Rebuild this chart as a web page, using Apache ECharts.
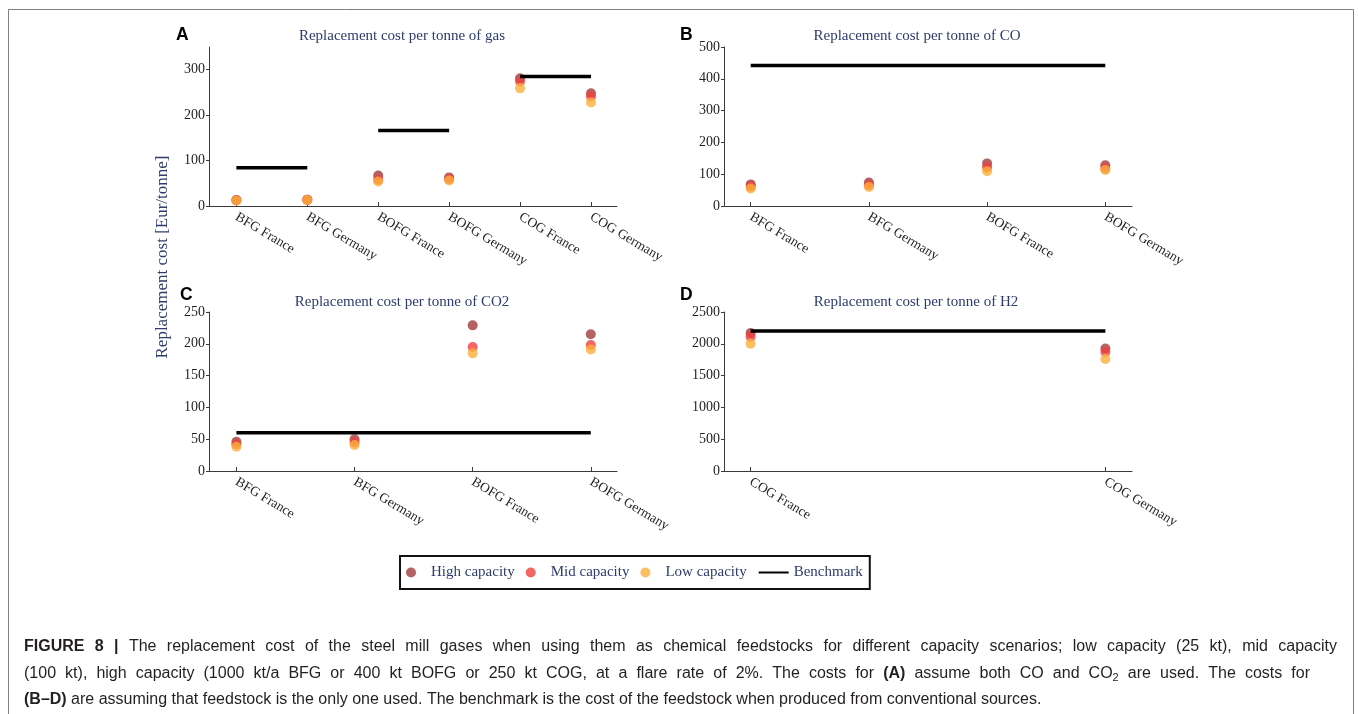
<!DOCTYPE html>
<html>
<head>
<meta charset="utf-8">
<script src="https://cdn.jsdelivr.net/npm/echarts@6/dist/echarts.min.js"></script>
<style>
html,body{margin:0;padding:0;background:#fff;}
#chart{width:1358px;height:714px;}
</style>
</head>
<body>
<div id="chart"></div>
<script>
// ---- Data ----
const catsA = ['BFG France','BFG Germany','BOFG France','BOFG Germany','COG France','COG Germany'];
const highA = [13, 14, 67, 63, 281, 248];
const midA  = [12.5, 13.5, 58, 59, 274, 241];
const lowA  = [12, 13, 54, 56, 259, 228];
const benchA = [84, 84, 166, 166, 285, 285];   // pairs: BFG, BOFG, COG

const catsB = ['BFG France','BFG Germany','BOFG France','BOFG Germany'];
const highB = [68, 74, 134, 128];
const midB  = [61, 65, 121, 118];
const lowB  = [55, 60, 109, 113];
const benchB = [442, 442];

const catsC = ['BFG France','BFG Germany','BOFG France','BOFG Germany'];
const highC = [46, 50, 229, 215];
const midC  = [42, 45, 195, 198];
const lowC  = [38, 41, 185, 191];
const benchC = [60, 60];

const catsD = ['COG France','COG Germany'];
const highD = [2170, 1925];
const midD  = [2110, 1870];
const lowD  = [2000, 1760];
const benchD = [2200, 2200];

const yTicksA = [0, 100, 200, 300];
const yTicksB = [0, 100, 200, 300, 400, 500];
const yTicksC = [0, 50, 100, 150, 200, 250];
const yTicksD = [0, 500, 1000, 1500, 2000, 2500];

const panelTitles = ['Replacement cost per tonne of gas','Replacement cost per tonne of CO','Replacement cost per tonne of CO2','Replacement cost per tonne of H2'];
const panelLetters = ['A','B','C','D'];
const yAxisName = 'Replacement cost [Eur/tonne]';

// caption lines: pieces of [style, text]
const captionLines = [
  [['b','FIGURE 8 |'], ['n',' The replacement cost of the steel mill gases when using them as chemical feedstocks for different capacity scenarios; low capacity (25 kt), mid capacity']],
  [['n','(100 kt), high capacity (1000 kt/a BFG or 400 kt BOFG or 250 kt COG, at a flare rate of 2%. The costs for '], ['b','(A)'], ['n',' assume both CO and CO'], ['sub','2'], ['n',' are used. The costs for']],
  [['b','(B–D)'], ['n',' are assuming that feedstock is the only one used. The benchmark is the cost of the feedstock when produced from conventional sources.']]
];

// ---- Styles ----
const SERIF = 'Liberation Serif';
const SANS = 'Liberation Sans';
const NAVY = '#2d3c6b';
const AXIS = '#3a3a3a';
const colHigh = '#a23b3b', colMid = '#f0403f', colLow = '#fbb03b';

const grids = [
  {left:209, top:47, width:408, height:159},
  {left:724, top:47, width:408, height:159},
  {left:209, top:312, width:408, height:159},
  {left:724, top:312, width:408, height:159}
];
const xRanges = [[-0.386, 5.367], [-0.226, 3.226], [-0.232, 3.222], [-0.075, 1.075]];
const yRanges = [[0, 350, 100], [0, 500, 100], [0, 250, 50], [0, 2500, 500]];
const allCats = [catsA, catsB, catsC, catsD];
const allYTicks = [yTicksA, yTicksB, yTicksC, yTicksD];

const xAxes = allCats.map((cats, i) => ({
  type:'value', gridIndex:i, min:xRanges[i][0], max:xRanges[i][1],
  axisLine:{show:true, onZero:false, lineStyle:{color:AXIS, width:1}},
  axisTick:{show:true, inside:true, length:4, customValues:cats.map((c, k) => k), lineStyle:{color:AXIS}},
  axisLabel:{show:true, customValues:cats.map((c, k) => k), formatter:(v) => cats[Math.round(v)],
    rotate:-31, margin:10, fontFamily:SERIF, fontSize:13.5, color:'#1f1f1f'},
  splitLine:{show:false}
}));
const yAxes = allYTicks.map((ticks, i) => ({
  type:'value', gridIndex:i, min:yRanges[i][0], max:yRanges[i][1], interval:yRanges[i][2],
  axisLine:{show:true, onZero:false, lineStyle:{color:AXIS, width:1}},
  axisTick:{show:true, length:3, customValues:ticks, lineStyle:{color:AXIS}},
  axisLabel:{customValues:ticks, margin:4, formatter:(v) => String(v), fontFamily:SERIF, fontSize:14, color:'#1f1f1f'},
  splitLine:{show:false}
}));

const series = [];
function addScatter(idx, name, vals, color) {
  series.push({
    type:'scatter', name:name, xAxisIndex:idx, yAxisIndex:idx,
    data: vals.map((v, k) => [k, v]),
    symbol:'circle', symbolSize:10,
    itemStyle:{color:color, opacity:0.8},
    z:2, silent:true
  });
}
function addBench(idx, pairs) {
  series.push({
    type:'line', name:'Benchmark', xAxisIndex:idx, yAxisIndex:idx,
    data: pairs, symbol:'none', showSymbol:false,
    lineStyle:{color:'#000', width:3.5, cap:'butt'}, itemStyle:{color:'#000'},
    z:3, silent:true
  });
}
const highs = [highA, highB, highC, highD];
const mids = [midA, midB, midC, midD];
const lows = [lowA, lowB, lowC, lowD];
for (let i = 0; i < 4; i++) {
  addScatter(i, 'High capacity', highs[i], colHigh);
  addScatter(i, 'Mid capacity', mids[i], colMid);
  addScatter(i, 'Low capacity', lows[i], colLow);
}
for (let k = 0; k < benchA.length; k += 2) addBench(0, [[k, benchA[k]], [k + 1, benchA[k + 1]]]);
addBench(1, [[0, benchB[0]], [catsB.length - 1, benchB[1]]]);
addBench(2, [[0, benchC[0]], [catsC.length - 1, benchC[1]]]);
addBench(3, [[0, benchD[0]], [catsD.length - 1, benchD[1]]]);

const titlePos = [[402, 36], [917, 36], [402, 302], [916, 302]];
const letterPos = [[176, 35], [680, 35], [180, 295], [680, 295]];
const graphics = [];
graphics.push({type:'rect', shape:{x:8.5, y:9.5, width:1345, height:720},
  style:{fill:'none', stroke:'#808080', lineWidth:1}, silent:true});
for (let i = 0; i < 4; i++) {
  graphics.push({type:'text', x:titlePos[i][0], y:titlePos[i][1],
    style:{text:panelTitles[i], align:'center', verticalAlign:'middle', fontFamily:SERIF, fontSize:15, fill:NAVY}});
  graphics.push({type:'text', x:letterPos[i][0], y:letterPos[i][1],
    style:{text:panelLetters[i], align:'left', verticalAlign:'middle', fontFamily:SANS, fontSize:17.5, fontWeight:'bold', fill:'#000'}});
}
graphics.push({type:'text', x:163, y:257, rotation:Math.PI/2,
  style:{text:yAxisName, align:'center', verticalAlign:'middle', fontFamily:SERIF, fontSize:17, fill:NAVY}});

// ---- Caption (justified like the journal layout) ----
const CAP_SIZE = 16, SUB_SIZE = 11;
const capStyle = {
  b:{fontWeight:'bold', fontSize:CAP_SIZE, dy:0},
  n:{fontWeight:'normal', fontSize:CAP_SIZE, dy:0},
  sub:{fontWeight:'normal', fontSize:SUB_SIZE, dy:4}
};
const measureCtx = document.createElement('canvas').getContext('2d');
function measure(style, text) {
  const s = capStyle[style];
  measureCtx.font = s.fontWeight + ' ' + s.fontSize + 'px "' + SANS + '"';
  return measureCtx.measureText(text).width;
}
const capLeft = 24;
const capRightTargets = [1337, 1310, null];
const capY = [647, 674, 700];
captionLines.forEach((pieces, li) => {
  const words = [[]];
  pieces.forEach(([st, txt]) => {
    txt.split(' ').forEach((part, j) => {
      if (j > 0) words.push([]);
      if (part !== '') words[words.length - 1].push([st, part]);
    });
  });
  const ws = words.filter(w => w.length);
  const widths = ws.map(w => w.reduce((a, [st, t]) => a + measure(st, t), 0));
  const total = widths.reduce((a, b) => a + b, 0);
  let gap = measure('n', ' ');
  if (capRightTargets[li]) gap = (capRightTargets[li] - capLeft - total) / (ws.length - 1);
  let x = capLeft;
  ws.forEach((w, wi) => {
    let px = x;
    w.forEach(([st, t]) => {
      const s = capStyle[st];
      graphics.push({type:'text', x:px, y:capY[li] + s.dy,
        style:{text:t, align:'left', verticalAlign:'middle', fontFamily:SANS, fontSize:s.fontSize, fontWeight:s.fontWeight, fill:'#231f20'}});
      px += measure(st, t);
    });
    x += widths[wi] + gap;
  });
});

const chart = echarts.init(document.getElementById('chart'), null, {renderer:'canvas'});
chart.setOption({
  animation:false,
  backgroundColor:'#fff',
  grid: grids.map(g => Object.assign({outerBoundsMode:'none', containLabel:false}, g)),
  xAxis: xAxes,
  yAxis: yAxes,
  legend:{
    left:400, top:556, orient:'horizontal', padding:[9, 7, 9, 6], itemGap:11,
    itemWidth:30, itemHeight:10, borderColor:'#111', borderWidth:2, borderRadius:0,
    symbolKeepAspect:false,
    textStyle:{fontFamily:SERIF, fontSize:15, color:NAVY},
    selectedMode:false,
    data:[
      {name:'High capacity', icon:'circle'},
      {name:'Mid capacity', icon:'circle'},
      {name:'Low capacity', icon:'circle'},
      {name:'Benchmark', itemStyle:{opacity:0}}
    ]
  },
  series: series,
  graphic: graphics
});
</script>
</body>
</html>
